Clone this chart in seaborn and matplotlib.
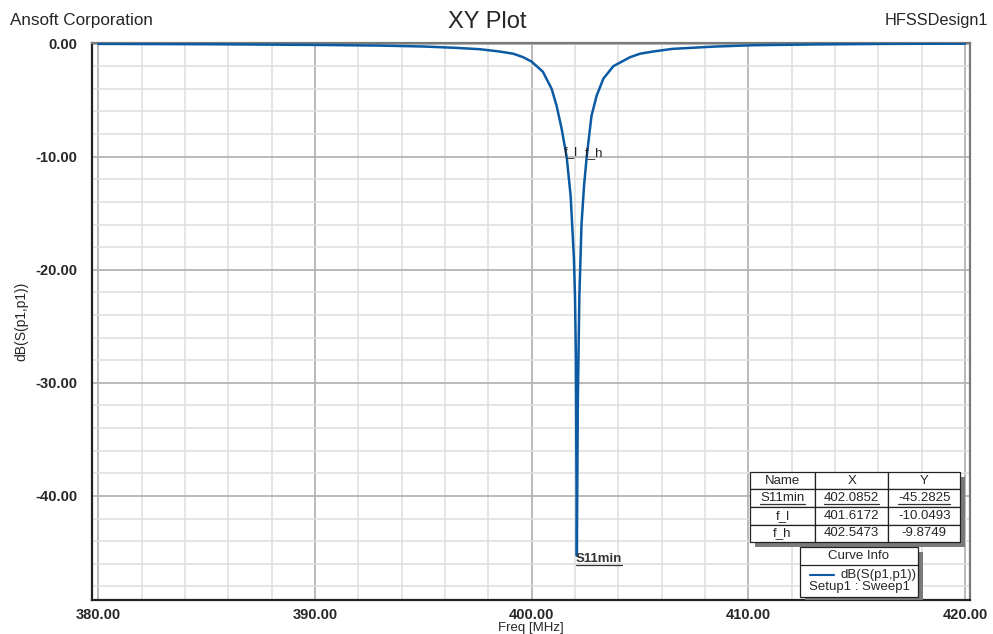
import numpy as np
import pandas as pd
import matplotlib
matplotlib.use("Agg")
import matplotlib.pyplot as plt
import seaborn as sns
from matplotlib.patches import Rectangle
from matplotlib.lines import Line2D
from matplotlib.ticker import MultipleLocator

# Sweep data (MHz, dB)
freq = [380.0, 385.0, 390.0, 393.0, 395.0, 396.5, 397.6, 398.5, 399.15, 399.6,
        400.0, 400.52, 400.92, 401.15, 401.38, 401.6172, 401.8, 401.95, 402.0,
        402.04, 402.0852, 402.13, 402.2, 402.3, 402.42, 402.5473, 402.76, 403.0,
        403.31, 403.77, 404.55, 405.0, 405.62, 406.5, 408.4, 410.2, 413.0,
        416.3, 420.0]
s11_db = [-0.03, -0.06, -0.12, -0.18, -0.26, -0.38, -0.5, -0.7, -0.9, -1.2,
          -1.6, -2.5, -4.0, -5.5, -7.5, -10.0493, -13.5, -19.0, -22.4,
          -27.6, -45.2825, -31.8, -22.4, -16.0, -12.5, -9.8749, -6.4, -4.6,
          -3.1, -2.0, -1.2, -0.9, -0.7, -0.47, -0.27, -0.15, -0.08,
          -0.03, -0.01]

# Marker table
marker_names = ["S11min", "f_l", "f_h"]
marker_x = [402.0852, 401.6172, 402.5473]
marker_y = [-45.2825, -10.0493, -9.8749]

line_color = "#0b5aa3"

sns.set_style("white")
plt.rcParams["font.family"] = ["Liberation Sans", "DejaVu Sans"]

df = pd.DataFrame({"Freq": freq, "dB": s11_db})

fig = plt.figure(figsize=(9.93, 6.34), dpi=100)
ax = fig.add_axes([0.0923, 0.0536, 0.8845, 0.8786])

sns.lineplot(data=df, x="Freq", y="dB", ax=ax, color=line_color, lw=1.8,
             sort=False, zorder=5)

ax.set_xlim(379.69, 420.23)
ax.set_ylim(-49.2, 0.05)

# grid: major every 10, minor every 2
ax.xaxis.set_major_locator(MultipleLocator(10))
ax.xaxis.set_minor_locator(MultipleLocator(2))
ax.yaxis.set_major_locator(MultipleLocator(10))
ax.yaxis.set_minor_locator(MultipleLocator(2))
ax.grid(which="major", color="#b4b4b4", lw=1.3, zorder=0)
ax.grid(which="minor", color="#dedede", lw=1.1, zorder=0)
ax.set_axisbelow(True)

ax.xaxis.set_major_formatter(matplotlib.ticker.FormatStrFormatter("%.2f"))
ax.yaxis.set_major_formatter(matplotlib.ticker.FormatStrFormatter("%.2f"))
ax.tick_params(axis="both", which="both", direction="out", color="black")
ax.tick_params(axis="both", which="major", length=7, width=1.2, labelsize=10.5)
ax.tick_params(axis="both", which="minor", length=6, width=1.0)
ax.tick_params(axis="x", which="both", length=5, pad=1)
for lbl in ax.get_xticklabels() + ax.get_yticklabels():
    lbl.set_fontweight("bold")

for side in ["left", "bottom"]:
    ax.spines[side].set_color("#222222")
    ax.spines[side].set_linewidth(1.6)
for side in ["top", "right"]:
    ax.spines[side].set_color("#7a7a7a")
    ax.spines[side].set_linewidth(1.6)

ax.set_xlabel("")
ax.set_ylabel("dB(S(p1,p1))", fontsize=10, labelpad=5)
fig.text(0.535, 0.0095, "Freq [MHz]", fontsize=9.5, ha="center", va="center")

fig.text(0.0101, 0.968, "Ansoft Corporation", fontsize=12.3, va="center", ha="left")
fig.text(0.491, 0.966, "XY Plot", fontsize=17, va="center", ha="center")
fig.text(0.995, 0.968, "HFSSDesign1", fontsize=11.7, va="center", ha="right")

# marker labels on the curve
ax.text(marker_x[1] - 0.15, marker_y[1] + 0.45, marker_names[1], fontsize=9.5,
        ha="left", va="center", color="#222222", zorder=6)
ax.text(marker_x[2] - 0.08, marker_y[2] + 0.15, marker_names[2], fontsize=9.5,
        ha="left", va="center", color="#222222", zorder=6)
s11_txt = ax.text(marker_x[0] - 0.05, -45.6, marker_names[0], fontsize=9.5,
                  fontweight="bold", ha="left", va="center", color="#333333", zorder=6)

# marker table
cell_text = [[n, f"{x:.4f}", f"{y:.4f}"] for n, x, y in zip(marker_names, marker_x, marker_y)]
tb_box = [0.7495, 0.104, 0.239, 0.126]
shadow = Rectangle((tb_box[0] + 0.006, tb_box[1] - 0.009), tb_box[2], tb_box[3],
                   transform=ax.transAxes, facecolor="#7a7a7a", edgecolor="none", zorder=8)
ax.add_patch(shadow)
table = ax.table(cellText=cell_text, colLabels=["Name", "X", "Y"],
                 cellLoc="center", bbox=tb_box, colWidths=[0.31, 0.35, 0.34])
table.auto_set_font_size(False)
table.set_fontsize(9.5)
table.set_zorder(9)
for (r, c), cell in table.get_celld().items():
    cell.set_edgecolor("#222222")
    cell.set_linewidth(0.9)
    cell.set_facecolor("white")

# curve info box
cx0, cy0, cw, ch = 0.8065, 0.0054, 0.1343, 0.0898
ax.add_patch(Rectangle((cx0 + 0.006, cy0 - 0.009), cw, ch, transform=ax.transAxes,
                       facecolor="#7a7a7a", edgecolor="none", zorder=8))
ax.add_patch(Rectangle((cx0, cy0), cw, ch, transform=ax.transAxes,
                       facecolor="white", edgecolor="#222222", lw=0.9, zorder=9))
ax.add_line(Line2D([cx0, cx0 + cw], [0.0628, 0.0628], transform=ax.transAxes,
                   color="#222222", lw=0.9, zorder=10))
ax.text(cx0 + cw / 2, 0.079, "Curve Info", transform=ax.transAxes, fontsize=9.5,
        ha="center", va="center", zorder=10)
ax.add_line(Line2D([0.818, 0.845], [0.0449, 0.0449], transform=ax.transAxes,
                   color=line_color, lw=1.5, zorder=10))
ax.text(0.8525, 0.0449, "dB(S(p1,p1))", transform=ax.transAxes, fontsize=9.5,
        ha="left", va="center", zorder=10)
ax.text(0.8165, 0.0233, "Setup1 : Sweep1", transform=ax.transAxes, fontsize=9.5,
        ha="left", va="center", zorder=10)

# underline for the S11min marker text and table row
fig.canvas.draw()
renderer = fig.canvas.get_renderer()
inv = fig.transFigure.inverted()


def underline(artist):
    bb = artist.get_window_extent(renderer)
    (x0, y0), (x1, _) = inv.transform([(bb.x0, bb.y0), (bb.x1, bb.y1)])
    fig.add_artist(Line2D([x0, x1], [y0 + 0.001, y0 + 0.001], transform=fig.transFigure,
                          color="#333333", lw=0.9, zorder=20))


underline(s11_txt)
for c in range(3):
    underline(table[1, c].get_text())

fig.savefig("out.png", dpi=100)
